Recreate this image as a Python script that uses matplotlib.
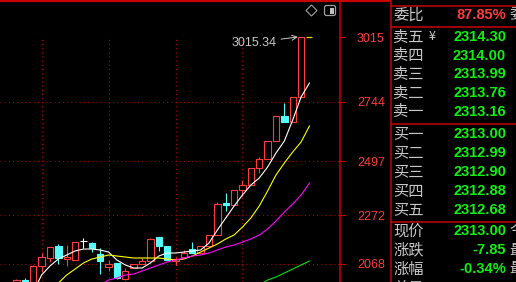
import matplotlib
matplotlib.use("Agg")
import matplotlib.pyplot as plt
import numpy as np
from matplotlib.patches import Polygon, FancyBboxPatch, Rectangle

# ---------------- data ----------------
opens = [1970, 2001, 1985, 2060, 2093, 2143, 2089, 2085, 2164, 2156, 2110, 2056,
         2072, 2005, 2051, 2068, 2080, 2181, 2143, 2080, 2097, 2131, 2114, 2143,
         2189, 2321, 2314, 2377, 2398, 2469, 2506, 2581, 2685, 2660, 2765]
highs = [2004, 2009, 2062, 2114, 2140, 2151, 2147, 2160, 2176, 2160, 2135, 2085,
         2074, 2051, 2070, 2093, 2176, 2181, 2143, 2097, 2128, 2160, 2143, 2190,
         2327, 2364, 2377, 2418, 2469, 2514, 2581, 2685, 2740, 2765, 3015.34]
lows = [1960, 1985, 1975, 2034, 2076, 2068, 2060, 2085, 2135, 2118, 2026, 2039,
        2005, 2003, 2050, 2066, 2080, 2122, 2085, 2064, 2097, 2112, 2112, 2140,
        2189, 2289, 2314, 2352, 2398, 2448, 2506, 2581, 2660, 2660, 2765]
closes = [2001, 1990, 2060, 2097, 2139, 2093, 2097, 2160, 2164, 2135, 2080, 2068,
          2010, 2039, 2068, 2080, 2172, 2143, 2085, 2089, 2114, 2114, 2143, 2189,
          2318, 2315, 2377, 2398, 2469, 2506, 2581, 2685, 2660, 2765, 3015.34]

nan = np.nan
ma_white = [nan, nan, 1951, 2022.1, 2059.6, 2088.8, 2105.5, 2122.2, 2130.5, 2130.5,
            2126.4, 2118.0, 2084.6, 2063.8, 2051.3, 2051.3, 2072.1, 2101.3, 2113.8,
            2113.8, 2118.0, 2122.2, 2126.4, 2155.6, 2209.8, 2259.9, 2309.9, 2355.8,
            2397.5, 2426.7, 2472.6, 2531.0, 2581.1, 2668.7, 2764.7, 2823.1]
ma_yellow = [nan, nan, nan, nan, 1955, 1988.7, 2022.1, 2047.1, 2072.1, 2088.8,
             2097.2, 2105.5, 2101.3, 2097.2, 2093.0, 2093.0, 2093.0, 2093.0, 2088.8,
             2084.6, 2088.8, 2101.3, 2118.0, 2134.7, 2151.4, 2172.3, 2189.0, 2222.3,
             2259.9, 2309.9, 2372.5, 2439.3, 2489.3, 2535.2, 2576.9, 2643.7]
ma_magenta = [nan] * 10 + [1980, 2001.1, 2009.5, 2022.1, 2026.2, 2038.8, 2051.3,
              2063.8, 2076.3, 2084.6, 2093.0, 2101.3, 2105.5, 2113.8, 2126.4,
              2138.9, 2147.2, 2159.7, 2172.3, 2189.0, 2214.0, 2247.4, 2284.9,
              2318.3, 2355.8, 2405.9]
ma_green = [nan] * 29 + [1980.3, 2001.1, 2013.7, 2030.4, 2047.1, 2063.8, 2080.5]

price_ticks = [3015, 2744, 2497, 2272, 2068]
peak_label = "3015.34"

weibi_label = "委比"
weibi_value = "87.85%"
quote_labels = ["卖五", "卖四", "卖三", "卖二", "卖一",
                "买一", "买二", "买三", "买四", "买五"]
quote_values = ["2314.30", "2314.00", "2313.99", "2313.76", "2313.16",
                "2313.00", "2312.99", "2312.90", "2312.88", "2312.68"]
stat_labels = ["现价", "涨跌", "涨幅"]
stat_values = ["2313.00", "-7.85", "-0.34%"]
edge_chars = ["委", "今", "最", "最"]

# ---------------- style ----------------
BG = "black"
UP = "#ff3c3c"
DOWN = "#54fcfc"
FLAT = "#ffffff"
FRAME = "#c80000"
GRID = "#b40000"
GRAY = "#c8c8c8"
GREEN = "#10f010"
NUM_FONT = ["Liberation Sans", "DejaVu Sans"]
CJK_FONT = ["Noto Sans CJK SC", "DejaVu Sans"]

W, H = 516, 282
fig = plt.figure(figsize=(W / 100, H / 100), dpi=100, facecolor=BG)

# main chart axes (pixel 0..339 horizontally)
chart_right = 339
slot = 8.37
first = 16.5
ax = fig.add_axes([0, 0, chart_right / W, 1])
ax.set_facecolor(BG)
ax.set_xlim(-first / slot, (chart_right - first) / slot)
ax.set_ylim(1992.9, 3169.4)
for s in ax.spines.values():
    s.set_visible(False)
ax.set_xticks([])
ax.yaxis.tick_right()
ax.set_yticks(price_ticks)
ax.set_yticklabels([str(t) for t in price_ticks])
ax.tick_params(axis="y", colors=FRAME, length=4.3, width=0.8, pad=8.6,
               labelsize=9, labelcolor=UP, direction="out")
for lab in ax.get_yticklabels():
    lab.set_family(NUM_FONT)

n = len(opens)
idx = np.arange(n)
ylo = ax.get_ylim()[0]

# dotted grid
ax.hlines(price_ticks[1:], *ax.get_xlim(), colors=GRID, linestyles=(0, (1, 3)),
          lw=0.75, zorder=1)
ax.vlines(np.arange(3, n, 8), ylo, price_ticks[0], colors=GRID,
          linestyles=(0, (1, 3)), lw=0.75, zorder=1)

# candles
o = np.array(opens); c = np.array(closes); hi = np.array(highs); lo = np.array(lows)
body_lo = np.minimum(o, c); body_hi = np.maximum(o, c)
colors = np.where(c > o, UP, np.where(c < o, DOWN, FLAT))
bw = 0.76
for i in range(n):
    col = colors[i]
    if c[i] > o[i]:
        ax.vlines(i, lo[i], body_lo[i], colors=col, lw=0.8, zorder=3)
        ax.vlines(i, body_hi[i], hi[i], colors=col, lw=0.8, zorder=3)
        ax.bar(i, body_hi[i] - body_lo[i], bottom=body_lo[i], width=bw,
               facecolor=BG, edgecolor=col, lw=0.8, zorder=4)
    else:
        ax.vlines(i, lo[i], hi[i], colors=col, lw=0.8, zorder=3)
        ax.bar(i, max(body_hi[i] - body_lo[i], 0.0), bottom=body_lo[i], width=bw,
               facecolor=col, edgecolor=col, lw=0.8, zorder=4)

# moving averages
xm = np.arange(len(ma_white))
ax.plot(xm, ma_white, color="#ffffff", lw=0.8, zorder=5)
ax.plot(xm, ma_yellow, color="#ffff00", lw=0.8, zorder=5)
ax.plot(xm, ma_magenta, color="#ff00ff", lw=0.8, zorder=5)
ax.plot(np.arange(len(ma_green)), ma_green, color="#00e000", lw=0.8, zorder=5)

# peak annotation
last = n - 1
ax.annotate(peak_label, xy=(last - bw / 2, highs[last]), xytext=(-21, -5.7),
            textcoords="offset pixels", ha="right", va="center", color=GRAY,
            fontsize=9, family=NUM_FONT,
            arrowprops=dict(arrowstyle="->", color=GRAY, lw=0.7,
                            shrinkA=1, shrinkB=0), zorder=6)
ax.hlines(highs[last], last + 0.6, last + 1.3, colors="#e0e000", lw=0.9, zorder=6)

# ---------------- overlay (frame, icons, quote panel) ----------------
ov = fig.add_axes([0, 0, 1, 1])
ov.set_xlim(0, W)
ov.set_ylim(H, 0)
ov.axis("off")
ov.patch.set_alpha(0)

ov.plot([0, 390], [0.8, 0.8], color=FRAME, lw=1.6)
ov.plot([chart_right + 0.5, chart_right + 0.5], [0, H], color=FRAME, lw=1.1)
ov.plot([390.5, 390.5], [0, H], color=FRAME, lw=1.1)
for yy in [5.5, 26.5, 123.5, 221.5]:
    ov.plot([390.5, W], [yy, yy], color=FRAME, lw=1.1)

# icons
ov.add_patch(Polygon([(311.5, 5), (317, 10.5), (311.5, 16), (306, 10.5)],
                     closed=True, fill=False, ec="#a0a0a0", lw=0.8))
ov.add_patch(FancyBboxPatch((324.5, 5.5), 11, 10, boxstyle="round,pad=0,rounding_size=2",
                            fill=False, ec="#a0a0a0", lw=0.9))
ov.add_patch(Rectangle((329.5, 7.5), 4, 6, fc="#c0c0c0", ec="none"))

label_x = 393
value_x = 506
lab_fs = 11
val_fs = 10.5

ov.text(label_x, 15, weibi_label, color=GRAY, fontsize=lab_fs, family=CJK_FONT,
        ha="left", va="center")
ov.text(value_x, 15, weibi_value, color=UP, fontsize=val_fs, family=NUM_FONT,
        weight="bold", ha="right", va="center")

rows_y = [37, 55.7, 74.4, 93.1, 111.8, 134, 153, 172, 191, 210]
for y, lab, val in zip(rows_y, quote_labels, quote_values):
    ov.text(label_x, y, lab, color=GRAY, fontsize=lab_fs, family=CJK_FONT,
            ha="left", va="center")
    ov.text(value_x, y, val, color=GREEN, fontsize=val_fs, family=NUM_FONT,
            weight="bold", ha="right", va="center")
ov.text(432, 37, "¥", color=GRAY, fontsize=9, family=CJK_FONT,
        ha="center", va="center")

stat_y = [231, 250, 269]
for y, lab, val in zip(stat_y, stat_labels, stat_values):
    ov.text(label_x, y, lab, color=GRAY, fontsize=lab_fs, family=CJK_FONT,
            ha="left", va="center")
    ov.text(value_x, y, val, color=GREEN, fontsize=val_fs, family=NUM_FONT,
            weight="bold", ha="right", va="center")
ov.text(label_x, 289, "总量", color=GRAY, fontsize=lab_fs, family=CJK_FONT,
        ha="left", va="center")

for y, ch in zip([15] + stat_y, edge_chars):
    ov.text(509, y, ch, color=GRAY, fontsize=lab_fs, family=CJK_FONT,
            ha="left", va="center")

fig.savefig("out.png", dpi=100, facecolor=BG)
